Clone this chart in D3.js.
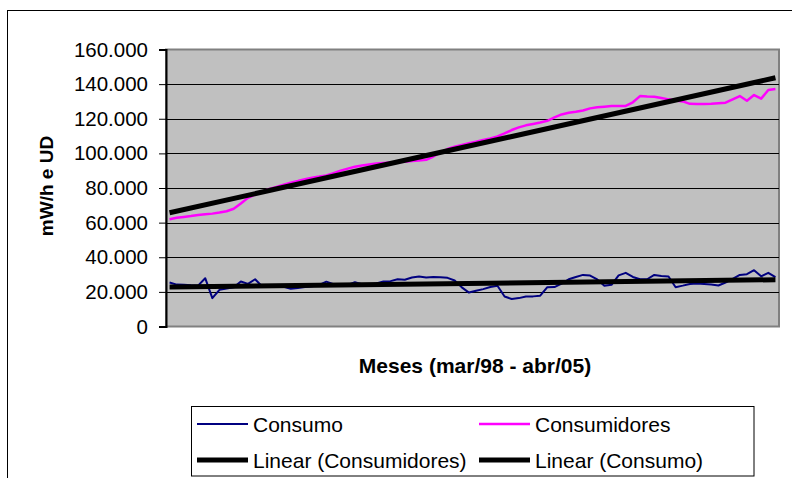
<!DOCTYPE html>
<html>
<head>
<meta charset="utf-8">
<script src="https://cdn.jsdelivr.net/npm/d3@7"></script>
<style>
  html, body { margin: 0; padding: 0; background: #fff; }
  svg { display: block; }
  text { font-family: "Liberation Sans", Arial, sans-serif; fill: #000; }
</style>
</head>
<body>
<svg id="chart" width="792" height="478"></svg>
<script>
// Monthly series, mar/98 .. abr/05 (86 months)
const consumo = [
  25.4, 24.2, 24.1, 23.8, 23.6, 27.9, 16.4, 21.2, 22.0, 22.6,
  26.0, 24.6, 27.3, 23.1, 23.4, 23.3, 22.9, 21.8, 22.2, 22.8,
  23.2, 24.0, 25.9, 24.5, 24.2, 24.0, 25.6, 24.4, 24.1, 24.8,
  26.0, 26.2, 27.3, 27.0, 28.3, 28.9, 28.3, 28.6, 28.5, 28.1,
  26.6, 22.6, 19.6, 20.6, 21.6, 22.8, 23.5, 17.3, 15.9, 16.4,
  17.3, 17.4, 17.8, 22.7, 22.8, 24.8, 27.3, 28.6, 29.8, 29.4,
  27.2, 23.5, 24.1, 29.5, 31.0, 28.6, 27.3, 27.3, 29.8, 29.2,
  28.9, 22.7, 23.6, 24.6, 24.8, 24.5, 24.2, 23.7, 25.4, 27.5,
  29.8, 30.2, 32.5, 29.0, 31.0, 28.5
].map(v => v * 1000);

const consumidores = [
  62.0, 62.8, 63.3, 63.8, 64.4, 64.8, 65.2, 65.8, 66.6, 68.0,
  71.0, 74.3, 76.2, 78.0, 79.5, 80.6, 81.9, 83.0, 84.0, 85.1,
  86.0, 86.6, 87.3, 88.6, 90.0, 91.2, 92.3, 93.0, 93.6, 94.1,
  94.4, 94.7, 95.0, 95.2, 95.6, 95.9, 96.3, 98.2, 100.5, 102.5,
  103.8, 104.8, 105.8, 106.8, 107.7, 108.6, 109.8, 111.5, 113.5, 115.0,
  116.2, 117.0, 117.8, 118.8, 120.8, 122.5, 123.5, 124.0, 124.8, 126.0,
  126.6, 127.0, 127.3, 127.4, 127.4, 129.5, 133.1, 132.8, 132.7, 132.0,
  131.2, 130.6, 130.0, 128.6, 128.5, 128.5, 128.6, 129.0, 129.3, 131.2,
  133.1, 130.4, 133.7, 131.6, 136.6, 137.2
].map(v => v * 1000);

const yTicks = [0, 20000, 40000, 60000, 80000, 100000, 120000, 140000, 160000];
const yTickLabels = ["0", "20.000", "40.000", "60.000", "80.000", "100.000", "120.000", "140.000", "160.000"];
const legendLabels = ["Consumo", "Consumidores", "Linear (Consumidores)", "Linear (Consumo)"];
const xTitle = "Meses (mar/98 - abr/05)";
const yTitle = "mW/h e UD";

const svg = d3.select("#chart");

// outer chart frame (runs past the right and bottom edges)
svg.append("rect")
  .attr("x", 7.5).attr("y", 10.5).attr("width", 820).attr("height", 520)
  .attr("fill", "#fff").attr("stroke", "#000").attr("stroke-width", 1);

const plot = { left: 166, right: 779, top: 49.5, bottom: 326.5 };

const idx = d3.range(consumo.length);
const x = d3.scalePoint().domain(idx).range([plot.left, plot.right]).padding(0.5);
const y = d3.scaleLinear().domain([0, 160000]).range([plot.bottom, plot.top]);

// plot area
svg.append("rect")
  .attr("x", plot.left).attr("y", plot.top)
  .attr("width", plot.right - plot.left).attr("height", plot.bottom - plot.top)
  .attr("fill", "#c0c0c0").attr("stroke", "#808080").attr("stroke-width", 2);

// horizontal gridlines
svg.append("g").selectAll("line")
  .data(yTicks.filter(t => t > 0 && t < 160000))
  .join("line")
  .attr("x1", plot.left).attr("x2", plot.right)
  .attr("y1", d => Math.round(y(d)) + 0.5).attr("y2", d => Math.round(y(d)) + 0.5)
  .attr("stroke", "#000").attr("stroke-width", 1);

// y axis
const yAxis = d3.axisLeft(y)
  .tickValues(yTicks)
  .tickFormat((d, i) => yTickLabels[i])
  .tickSize(7).tickPadding(11);
const gy = svg.append("g").attr("transform", `translate(${plot.left},0)`).call(yAxis);
gy.select(".domain").attr("stroke", "#000").attr("stroke-width", 2);
gy.selectAll(".tick line").attr("stroke", "#000");
gy.selectAll(".tick text")
  .attr("font-family", "'Liberation Sans', Arial, sans-serif")
  .attr("font-size", 20.5).attr("fill", "#000");

// series lines
const line = d3.line().x((d, i) => x(i)).y(d => y(d));
svg.append("path").datum(consumo)
  .attr("d", line).attr("fill", "none")
  .attr("stroke", "#000080").attr("stroke-width", 2).attr("stroke-linejoin", "round");
svg.append("path").datum(consumidores)
  .attr("d", line).attr("fill", "none")
  .attr("stroke", "#ff00ff").attr("stroke-width", 2.5).attr("stroke-linejoin", "round");

// least-squares linear trends
function linearFit(values) {
  const n = values.length;
  const mx = d3.mean(idx), my = d3.mean(values);
  let sxy = 0, sxx = 0;
  values.forEach((v, i) => { sxy += (i - mx) * (v - my); sxx += (i - mx) * (i - mx); });
  const b = sxy / sxx, a = my - b * mx;
  return [0, n - 1].map(i => ({ i, v: a + b * i }));
}
const trendLine = d3.line().x(d => x(d.i)).y(d => y(d.v));
[linearFit(consumidores), linearFit(consumo)].forEach(t => {
  svg.append("path").datum(t)
    .attr("d", trendLine).attr("fill", "none")
    .attr("stroke", "#000").attr("stroke-width", 5);
});

// axis titles
svg.append("text")
  .attr("x", 475).attr("y", 373)
  .attr("text-anchor", "middle")
  .attr("font-size", 21).attr("font-weight", "bold")
  .text(xTitle);

svg.append("text")
  .attr("transform", "translate(53,186) rotate(-90)")
  .attr("text-anchor", "middle")
  .attr("font-size", 19).attr("font-weight", "bold")
  .text(yTitle);

// legend
const legend = svg.append("g");
legend.append("rect")
  .attr("x", 191.5).attr("y", 406.5).attr("width", 562.5).attr("height", 69.5)
  .attr("fill", "#fff").attr("stroke", "#000").attr("stroke-width", 1);

const legendItems = [
  { label: legendLabels[0], color: "#000080", width: 2, col: 0, row: 0 },
  { label: legendLabels[1], color: "#ff00ff", width: 2.5, col: 1, row: 0 },
  { label: legendLabels[2], color: "#000", width: 5, col: 0, row: 1 },
  { label: legendLabels[3], color: "#000", width: 5, col: 1, row: 1 }
];
const colX = [197, 479];
const rowY = [424, 460];
legendItems.forEach(it => {
  const lx = colX[it.col], ly = rowY[it.row];
  legend.append("line")
    .attr("x1", lx).attr("x2", lx + 51)
    .attr("y1", ly).attr("y2", ly)
    .attr("stroke", it.color).attr("stroke-width", it.width);
  legend.append("text")
    .attr("x", lx + 56).attr("y", ly + 8)
    .attr("font-size", 21)
    .text(it.label);
});
</script>
</body>
</html>
